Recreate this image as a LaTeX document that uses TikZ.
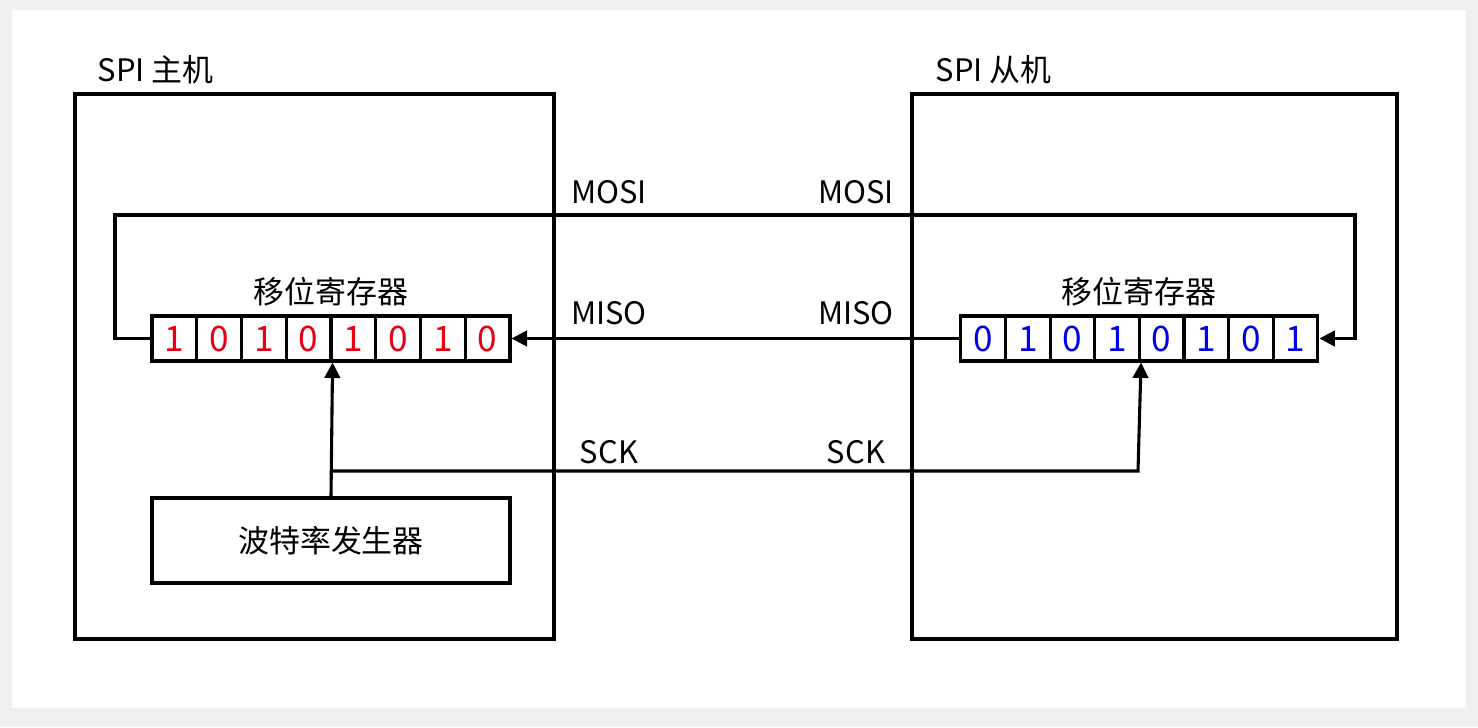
\documentclass[tikz,border=0pt]{standalone}
\usepackage{fontspec}
\setmainfont{Noto Sans CJK SC}
\usetikzlibrary{arrows.meta,positioning}
\definecolor{bitred}{RGB}{230,0,18}
\definecolor{bitblue}{RGB}{0,0,230}
\definecolor{frame}{RGB}{240,240,240}
\tikzset{
  box/.style={draw, line width=2.2pt, inner sep=0pt},
  cell/.style={draw, line width=2.2pt, inner sep=0pt, minimum width=11.19mm, minimum height=11.25mm, font=\fontsize{25}{27}\selectfont},
  wire/.style={line width=2.2pt},
  link/.style={line width=2.2pt, -{Triangle[length=11pt,width=11pt]}},
  lbl/.style={font=\fontsize{22}{26}\selectfont}
}
\begin{document}
\begin{tikzpicture}[x=0.25mm, y=-0.25mm]
    %background
    \fill[frame] (0,0) rectangle (1478,727);
    \fill[white] (12,10) rectangle (1466,708);
    \useasboundingbox (0,0) rectangle (1478,727);

    %boxes
    \node[box, minimum width=119.75mm, minimum height=136.25mm] (master) at (314.5,366.5) {};
    \node[box, minimum width=121.25mm, minimum height=136.25mm] (slave) at (1154.5,366.5) {};
    \node[lbl, anchor=west] at (93,70) {SPI 主机};
    \node[lbl, anchor=west] at (931,70) {SPI 从机};

    %registers
    \foreach \b [count=\i] in {1,0,1,0,1,0,1,0}
        \node[cell, text=bitred] (m\i) at ({152+44.75*(\i-0.5)},338.5) {\b};
    \foreach \b [count=\i] in {0,1,0,1,0,1,0,1}
        \node[cell, text=bitblue] (s\i) at ({961+44.6*(\i-0.5)},338.5) {\b};
    \node[lbl] at (331,292) {移位寄存器};
    \node[lbl] at (1139,292) {移位寄存器};

    %baud rate generator
    \node[box, minimum width=89.5mm, minimum height=21.25mm, lbl] (baud) at (331,540.5) {波特率发生器};

    %MOSI
    \coordinate (mo1) at (115,338.5);
    \coordinate (mo2) at (115,215);
    \coordinate (mo3) at (1355,215);
    \coordinate (mo4) at (1355,338.5);
    \draw[link] (m1.west) -- (mo1) -- (mo2) -- (mo3) -- (mo4) -- (s8.east);

    %MISO
    \draw[link] (s1.west) -- (m8.east);

    %SCK
    \coordinate (sck1) at (331,471);
    \coordinate (sck2) at (1138,471);
    \draw[link] (baud.north) -- (m4.south east);
    \draw[link] (sck1) -- (sck2) -- (s4.south east);

    %labels
    \foreach \x in {609,856}{
        \node[lbl] at (\x,192) {MOSI};
        \node[lbl] at (\x,313) {MISO};
        \node[lbl] at (\x,452) {SCK};
    }
\end{tikzpicture}
\end{document}
